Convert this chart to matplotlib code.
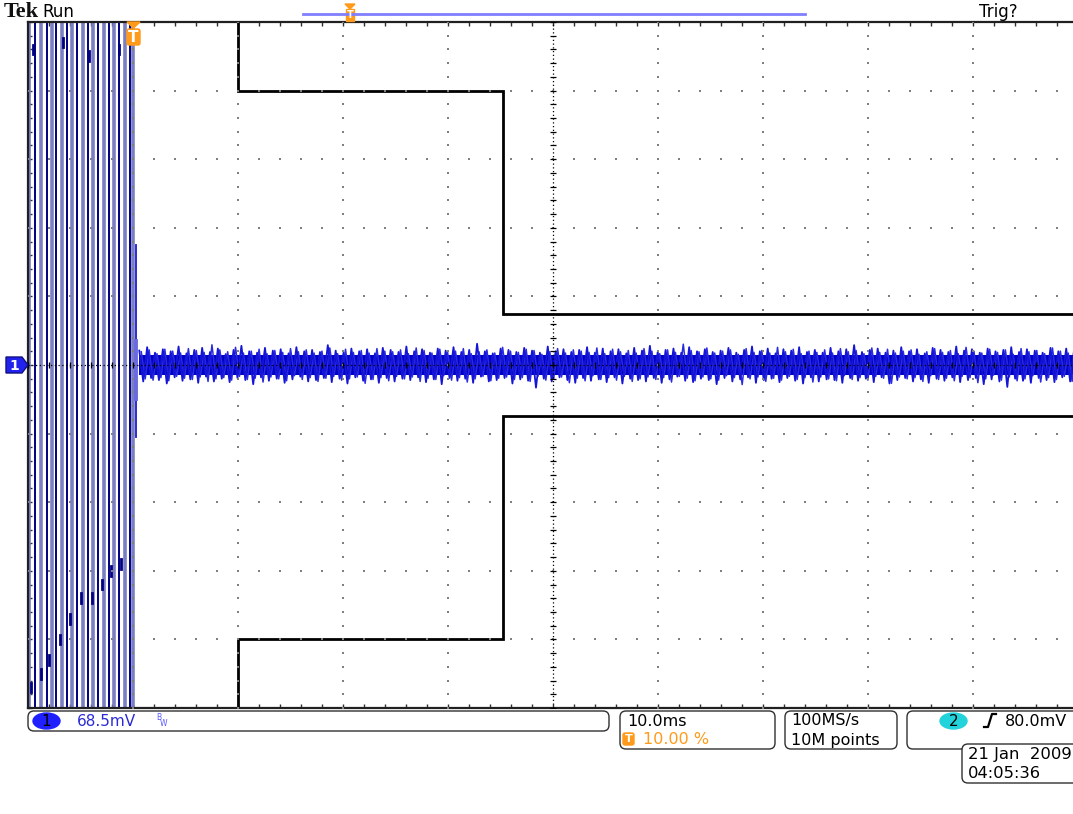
import numpy as np
import matplotlib.pyplot as plt
from matplotlib.patches import FancyBboxPatch, Polygon, Rectangle, Ellipse

# --- DANE (jednostki: działki ekranu, x 0..10, y -5..5) ---
# zbocza "burstu" na początku przebiegu (kanał 1)
burst_edges = [0.01, 0.07, 0.12, 0.18, 0.23, 0.27, 0.32, 0.37, 0.42, 0.47, 0.52,
               0.57, 0.62, 0.67, 0.72, 0.77, 0.82, 0.87, 0.92, 0.97, 1.00]
# ciemne "kropki" na zboczach (x, y) - widoczne w burście
burst_blobs_x = [0.03, 0.12, 0.20, 0.30, 0.40, 0.50, 0.61, 0.70, 0.79, 0.89, 0.05, 0.33, 0.58, 0.87]
burst_blobs_y = [-4.7, -4.5, -4.3, -4.0, -3.7, -3.4, -3.4, -3.2, -3.0, -2.9, 4.6, 4.7, 4.5, 4.6]
# szpilka w chwili wyzwolenia
spike_x = 1.03
spike_span = [1.75, -1.05]
spike_core = [0.35, -0.50]
# szum po wyzwoleniu - obwiednia górna / dolna (działki)
noise_start, noise_end = 1.06, 10.0
noise_core = 0.15
noise_top = [
    0.21, 0.26, 0.18, 0.23, 0.20, 0.27, 0.17, 0.22, 0.25, 0.19,
    0.24, 0.16, 0.22, 0.28, 0.20, 0.18, 0.25, 0.21, 0.23, 0.17,
    0.26, 0.20, 0.22, 0.19, 0.29, 0.21, 0.18, 0.24, 0.20, 0.23,
    0.17, 0.25, 0.22, 0.19, 0.27, 0.20, 0.23, 0.18, 0.24, 0.21,
    0.26, 0.19, 0.22, 0.31, 0.20, 0.17, 0.24, 0.22, 0.19, 0.25,
    0.21, 0.18, 0.27, 0.20, 0.23, 0.19, 0.22, 0.26, 0.18, 0.24,
    0.20, 0.23, 0.17, 0.25, 0.21, 0.28, 0.19, 0.22, 0.24, 0.18,
    0.26, 0.20, 0.23, 0.19, 0.21, 0.25, 0.18, 0.22, 0.27, 0.20,
    0.24, 0.17, 0.23, 0.21, 0.26, 0.19, 0.22, 0.18, 0.25, 0.20,
    0.23, 0.29, 0.19, 0.22, 0.24, 0.18, 0.21, 0.26, 0.20, 0.23,
    0.17, 0.25, 0.22, 0.19, 0.27, 0.21, 0.23, 0.18, 0.24, 0.20,
    0.22, 0.26, 0.19, 0.23, 0.21, 0.18, 0.25, 0.20, 0.24, 0.22]
noise_bot = [
    0.24, 0.19, 0.22, 0.27, 0.18, 0.23, 0.21, 0.26, 0.17, 0.24,
    0.20, 0.25, 0.19, 0.22, 0.28, 0.18, 0.23, 0.20, 0.26, 0.21,
    0.17, 0.24, 0.22, 0.19, 0.25, 0.20, 0.27, 0.18, 0.23, 0.21,
    0.26, 0.19, 0.24, 0.20, 0.22, 0.18, 0.25, 0.21, 0.28, 0.19,
    0.23, 0.20, 0.26, 0.17, 0.24, 0.22, 0.19, 0.27, 0.21, 0.23,
    0.33, 0.20, 0.24, 0.18, 0.22, 0.26, 0.19, 0.23, 0.21, 0.25,
    0.18, 0.27, 0.20, 0.22, 0.24, 0.19, 0.26, 0.21, 0.17, 0.23,
    0.25, 0.20, 0.22, 0.28, 0.19, 0.24, 0.21, 0.18, 0.26, 0.22,
    0.20, 0.25, 0.19, 0.23, 0.27, 0.18, 0.24, 0.21, 0.22, 0.26,
    0.19, 0.23, 0.20, 0.25, 0.18, 0.27, 0.22, 0.19, 0.24, 0.21,
    0.26, 0.20, 0.23, 0.18, 0.25, 0.22, 0.19, 0.28, 0.21, 0.24,
    0.32, 0.20, 0.23, 0.26, 0.19, 0.22, 0.25, 0.18, 0.24, 0.21]
# maska testowa (czarna)
mask_x = [2.0, 2.0, 4.52, 4.52, 10.2]
mask_upper = [5.0, 4.0, 4.0, 0.74, 0.74]
mask_lower = [-5.0, -4.0, -4.0, -0.74, -0.74]

# teksty statusu
ch1_scale = "68.5mV"
time_scale = "10.0ms"
trig_pos = "10.00 %"
sample_rate = "100MS/s"
record_len = "10M points"
trig_level = "80.0mV"
date_str = "21 Jan  2009"
time_str = "04:05:36"

BLUE_DARK = "#000080"
BLUE_LIGHT = "#7a7ec2"
ORANGE = "#ff9a1a"

W, H = 1073, 814
fig = plt.figure(figsize=(W / 100, H / 100), dpi=100)
fig.patch.set_facecolor("white")

# --- ekran (graticule) ---
ax = fig.add_axes([28 / W, 106 / H, 1050 / W, 686 / H])
ax.set_xlim(0, 10)
ax.set_ylim(-5, 5)
ax.set_facecolor("white")

# burst
for i, xe in enumerate(burst_edges):
    if i % 2 == 0:
        ax.plot([xe, xe], [-5, 5], color=BLUE_LIGHT, lw=2.6, zorder=2)
    else:
        ax.plot([xe, xe], [-5, 5], color=BLUE_DARK, lw=1.4, zorder=2.1)
for bx, by in zip(burst_blobs_x, burst_blobs_y):
    ax.plot([bx, bx], [by - 0.07, by + 0.07], color=BLUE_DARK, lw=2.0, zorder=2.1)

# szpilka
ax.plot([spike_x, spike_x], spike_span, color="#1a1ad0", lw=1.3, zorder=2)
ax.plot([spike_x, spike_x], spike_core, color="#6a6ae0", lw=2.8, zorder=2)

# szum - rdzeń + dwa przebiegi zygzaka (poświata)
n = len(noise_top)
xz = np.linspace(noise_start, noise_end, 2 * n)
step = xz[1] - xz[0]
yz = np.empty(2 * n)
yz[0::2] = noise_top
yz[1::2] = -np.array(noise_bot)
ax.fill_between(xz, -noise_core, noise_core, color="#0000c4", lw=0, zorder=2)
ax.plot(xz, yz, color="#1515d8", lw=1.3, zorder=2.2)
ax.plot(xz + step / 2, -yz[::-1] * 0.92, color="#2a2ae0", lw=1.1, zorder=2.1)

# maska
ax.plot(mask_x, mask_upper, color="black", lw=2, zorder=2.5, solid_joinstyle="miter")
ax.plot(mask_x, mask_lower, color="black", lw=2, zorder=2.5, solid_joinstyle="miter")

# siatka kropkowana
fine_x = np.arange(0, 10.01, 0.2)
fine_y = np.arange(-5, 5.01, 0.2)
for k in range(-4, 5):
    if k == 0:
        continue
    ax.scatter(fine_x, np.full_like(fine_x, k), s=2.5, marker="s", color="#808080", lw=0, zorder=3)
for j in range(1, 10):
    if j == 5:
        continue
    ax.scatter(np.full_like(fine_y, j), fine_y, s=2.5, marker="s", color="#808080", lw=0, zorder=3)

# osie środkowe
ax.plot([5, 5], [-5, 5], color="black", lw=0.9, ls=(0, (1, 2)), zorder=3)
ax.plot([0, 10], [0, 0], color="black", lw=0.9, ls=(0, (1, 2)), zorder=3)
ax.scatter(np.full_like(fine_y, 5), fine_y, marker="_", s=14, color="black", lw=0.9, zorder=3)
ax.scatter(fine_x, np.zeros_like(fine_x), marker="|", s=14, color="black", lw=0.9, zorder=3)

# ramka i podziałka
for side in ["top", "bottom", "left"]:
    ax.spines[side].set_color("#202020")
    ax.spines[side].set_linewidth(1.6)
ax.spines["right"].set_visible(False)
ax.set_xticks(np.arange(0, 11, 1))
ax.set_xticks(fine_x, minor=True)
ax.set_yticks(np.arange(-5, 6, 1))
ax.set_yticks(fine_y, minor=True)
ax.tick_params(which="both", direction="in", length=3, width=1, color="#303030",
               top=True, bottom=True, left=True, right=False,
               labelbottom=False, labelleft=False)

# --- nakładka w pikselach ---
ov = fig.add_axes([0, 0, 1, 1])
ov.set_xlim(0, W)
ov.set_ylim(H, 0)
ov.axis("off")

FONT = "DejaVu Sans"
ov.text(4, 12, "Tek", family="Liberation Serif", weight="bold", fontsize=16,
        va="center", ha="left", color="#111111")
ov.text(42, 12, "Run", family=FONT, fontsize=12, va="center", ha="left")
ov.text(979, 12, "Trig?", family=FONT, fontsize=12, va="center", ha="left")

# pasek rekordu
ov.plot([303, 805], [14, 14], color="#7f7fff", lw=2)
ov.add_patch(Polygon([(345, 4), (355, 4), (350, 9)], closed=True, color=ORANGE))
ov.add_patch(Rectangle((346, 9), 8, 12, color=ORANGE))
ov.text(350, 15.5, "T", color="white", fontsize=7, weight="bold", ha="center", va="center")

# znacznik wyzwolenia na górze ekranu
ov.add_patch(Polygon([(127, 22), (140, 22), (133.5, 28)], closed=True, color=ORANGE, zorder=6))
ov.add_patch(FancyBboxPatch((127, 29), 13, 16, boxstyle="round,pad=0,rounding_size=2",
                            color=ORANGE, zorder=6))
ov.text(133.5, 37.5, "T", color="white", fontsize=11, weight="bold", ha="center", va="center", zorder=7)

# znacznik kanału 1
ov.add_patch(Polygon([(6, 357), (22, 357), (28, 365), (22, 373), (6, 373)], closed=True,
                     fc="#2222ee", ec="#101080", lw=1, zorder=6))
ov.text(14, 365.5, "1", color="white", fontsize=10, weight="bold", ha="center", va="center", zorder=7)


def box(x, y, w, h):
    ov.add_patch(FancyBboxPatch((x, y), w, h, boxstyle="round,pad=0,rounding_size=6",
                                fc="white", ec="#303030", lw=1))


# status ch1
box(28, 711, 581, 20)
ov.add_patch(Ellipse((46.5, 721), 27, 16, color="#2020ff"))
ov.text(46.5, 721.5, "1", color="black", fontsize=11, ha="center", va="center", family=FONT)
ov.text(77, 721.5, ch1_scale, color="#2a2ad8", fontsize=11, ha="left", va="center", family=FONT)
ov.text(156, 717, "B", color="#5a5aff", fontsize=5.5, ha="left", va="center", family=FONT)
ov.text(160, 724, "W", color="#5a5aff", fontsize=5.5, ha="left", va="center", family=FONT)

# podstawa czasu
box(620, 711, 155, 38)
ov.text(627, 721, time_scale, fontsize=11.5, ha="left", va="center", family=FONT)
ov.add_patch(FancyBboxPatch((623, 733), 11, 12, boxstyle="round,pad=0,rounding_size=2", color=ORANGE))
ov.text(628.5, 739.5, "T", color="white", fontsize=8, weight="bold", ha="center", va="center")
ov.text(643, 740, trig_pos, color=ORANGE, fontsize=11.5, ha="left", va="center", family=FONT)

# próbkowanie
box(785, 711, 112, 38)
ov.text(791, 721, sample_rate, fontsize=11.5, ha="left", va="center", family=FONT)
ov.text(791, 740, record_len, fontsize=11.5, ha="left", va="center", family=FONT)

# wyzwalanie
box(907, 711, 180, 38)
ov.add_patch(Ellipse((953.5, 721), 27, 16, color="#22d3db"))
ov.text(953.5, 721.5, "2", color="black", fontsize=11, ha="center", va="center", family=FONT)
ov.plot([984, 988, 992, 996], [727, 727, 714, 714], color="black", lw=1.6)
ov.text(1005, 721, trig_level, fontsize=11.5, ha="left", va="center", family=FONT)

# data
box(962, 744, 130, 39)
ov.text(968, 755, date_str, fontsize=11.8, ha="left", va="center", family=FONT)
ov.text(968, 773, time_str, fontsize=11.8, ha="left", va="center", family=FONT)

fig.savefig("out.png", dpi=100)
